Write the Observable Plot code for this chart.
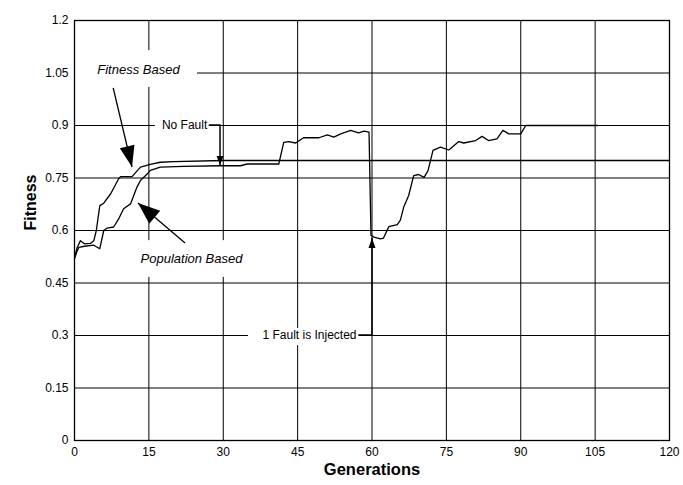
<!DOCTYPE html>
<html>
<head>
<meta charset="utf-8">
<script src="https://cdn.jsdelivr.net/npm/d3@7"></script>
<script src="https://cdn.jsdelivr.net/npm/@observablehq/plot@0.6"></script>
<style>
  html, body { margin: 0; padding: 0; background: #fff; }
</style>
</head>
<body>
<div id="chart"></div>
<script>
// ---- data ----
const xTicks = [0, 15, 30, 45, 60, 75, 90, 105, 120];
const yTicks = [0, 0.15, 0.3, 0.45, 0.6, 0.75, 0.9, 1.05, 1.2];

// Fitness Based (no fault run) - upper early curve
const genFit = [0, 0.5, 1.2, 2, 3.2, 3.9, 4.4, 5.1, 5.9, 7.3, 8.9, 9.3, 11.6, 13.3, 15.3, 17.3, 20, 30, 120];
const valFit = [0.52, 0.55, 0.571, 0.562, 0.563, 0.571, 0.6, 0.671, 0.678, 0.705, 0.748, 0.754, 0.754, 0.781, 0.789, 0.795, 0.797, 0.8, 0.8];

// Population Based (fault injected at generation 60) - lower early curve
const genPop = [0, 0.5, 0.9, 2, 3.9, 5.1, 5.9, 6.6, 7.9, 8.9, 9.9, 11.3, 12.6, 13.3, 14.7, 15.3, 17.3, 22, 29.4,
  33.5, 34.8, 41.2, 42.2, 43.2, 44.6, 46.2, 49.3, 51, 52.3, 53.7, 55.7, 57.3, 58.4, 59.4,
  59.8, 60.4, 61.7, 62.3, 63.4, 65.1, 65.7, 66.4, 67.4, 68.4, 69.4, 70.5, 71.3, 72.3, 73.8,
  75.5, 77.5, 78.5, 80.9, 82.2, 83.5, 85.2, 86.4, 87.6, 90, 91, 105.5];
const valPop = [0.52, 0.54, 0.552, 0.555, 0.558, 0.548, 0.6, 0.607, 0.61, 0.633, 0.662, 0.676, 0.724, 0.743, 0.762, 0.772, 0.781, 0.783, 0.785,
  0.785, 0.79, 0.79, 0.852, 0.854, 0.85, 0.865, 0.865, 0.873, 0.867, 0.876, 0.886, 0.879, 0.884, 0.881,
  0.586, 0.581, 0.576, 0.578, 0.611, 0.617, 0.629, 0.667, 0.7, 0.757, 0.76, 0.752, 0.771, 0.829, 0.838,
  0.83, 0.854, 0.85, 0.857, 0.869, 0.857, 0.862, 0.886, 0.876, 0.876, 0.9, 0.9];

// annotation labels
const labelText = ["Fitness Based", "Population Based", "No Fault", "1 Fault is Injected"];
const labelGen  = [12.9, 23.6, 22.2, 47.4];
const labelFit  = [1.06, 0.52, 0.9, 0.3];
const labelItalic = [true, true, false, false];

// white boxes behind labels (data units)
const boxGen1 = [0, 11.3, 16.3, 35.1];
const boxGen2 = [24.8, 35.9, 26.8, 57.1];
const boxFit1 = [1.009, 0.466, 0.88, 0.271];
const boxFit2 = [1.114, 0.571, 0.92, 0.32];

// arrows: polylines in data units, head size in px
const arrowPaths = [
  [[7.9, 1.006], [11.7, 0.78]],
  [[22.4, 0.563], [12.9, 0.677]],
  [[26.8, 0.9], [29.45, 0.9], [29.45, 0.786]],
  [[56.7, 0.3], [60.1, 0.3], [60.1, 0.577]]
];
const arrowHeadLen = [21, 22, 9, 10];
const arrowHeadWid = [15, 17, 7, 7];

// ---- build ----
const fitData = genFit.map((g, i) => ({g, f: valFit[i]}));
const popData = genPop.map((g, i) => ({g, f: valPop[i]}));
const labels = labelText.map((t, i) => ({t, g: labelGen[i], f: labelFit[i], it: labelItalic[i]}));
const boxes = boxGen1.map((g, i) => ({x1: g, x2: boxGen2[i], y1: boxFit1[i], y2: boxFit2[i]}));

const NS = "http://www.w3.org/2000/svg";
function arrowsMark(index, scales) {
  const sx = typeof scales.x === "function" ? scales.x : d3.scaleLinear([0, 120], [74, 669]);
  const sy = typeof scales.y === "function" ? scales.y : d3.scaleLinear([0, 1.2], [440, 20]);
  const g = document.createElementNS(NS, "g");
  arrowPaths.forEach((path, k) => {
    const pts = path.map(([a, b]) => [sx(a), sy(b)]);
    const line = document.createElementNS(NS, "path");
    line.setAttribute("d", "M" + pts.map(p => p.join(",")).join("L"));
    line.setAttribute("fill", "none");
    line.setAttribute("stroke", "#000");
    line.setAttribute("stroke-width", k >= 2 ? 1.5 : 1.3);
    g.appendChild(line);
    const [x2, y2] = pts[pts.length - 1];
    const [x1, y1] = pts[pts.length - 2];
    const ang = Math.atan2(y2 - y1, x2 - x1);
    const L = arrowHeadLen[k], W = arrowHeadWid[k] / 2;
    const c = Math.cos(ang), s = Math.sin(ang);
    const bx = x2 - L * c, by = y2 - L * s;
    const poly = document.createElementNS(NS, "polygon");
    poly.setAttribute("points", [[x2, y2], [bx - W * s, by + W * c], [bx + W * s, by - W * c]].map(p => p.join(",")).join(" "));
    poly.setAttribute("fill", "#000");
    g.appendChild(poly);
  });
  return g;
}

const chart = Plot.plot({
  width: 683,
  height: 485,
  marginLeft: 74,
  marginRight: 14,
  marginTop: 20,
  marginBottom: 45,
  style: {fontFamily: "'Liberation Sans', Arial, sans-serif", fontSize: "12px", background: "#fff", color: "#000"},
  x: {domain: [0, 120], ticks: xTicks, tickFormat: d => String(d), tickSize: 0, tickPadding: 7, label: null},
  y: {domain: [0, 1.2], ticks: yTicks, tickFormat: d => String(d), tickSize: 0, tickPadding: 6, label: null},
  marks: [
    Plot.ruleX(xTicks, {stroke: "#000", strokeWidth: 1}),
    Plot.ruleY(yTicks, {stroke: "#000", strokeWidth: 1}),
    Plot.rect(boxes, {x1: "x1", x2: "x2", y1: "y1", y2: "y2", fill: "#fff"}),
    Plot.line(fitData, {x: "g", y: "f", stroke: "#000", strokeWidth: 1.3}),
    Plot.line(popData, {x: "g", y: "f", stroke: "#000", strokeWidth: 1.3}),
    arrowsMark,
    Plot.text(labels.filter(d => d.it), {x: "g", y: "f", text: "t", fontStyle: "italic", fontSize: 13, fill: "#000"}),
    Plot.text(labels.filter(d => !d.it), {x: "g", y: "f", text: "t", fontSize: 12, fill: "#000", stroke: "#fff", strokeWidth: 5, paintOrder: "stroke"}),
    Plot.text(["Generations"], {frameAnchor: "bottom", dy: 34, fontWeight: "bold", fontSize: 16.5, fill: "#000"}),
    Plot.text(["Fitness"], {frameAnchor: "left", dx: -44, rotate: -90, fontWeight: "bold", fontSize: 16, fill: "#000"}),
    Plot.frame({stroke: "#000", strokeWidth: 1.3})
  ]
});
document.getElementById("chart").appendChild(chart);
</script>
</body>
</html>
